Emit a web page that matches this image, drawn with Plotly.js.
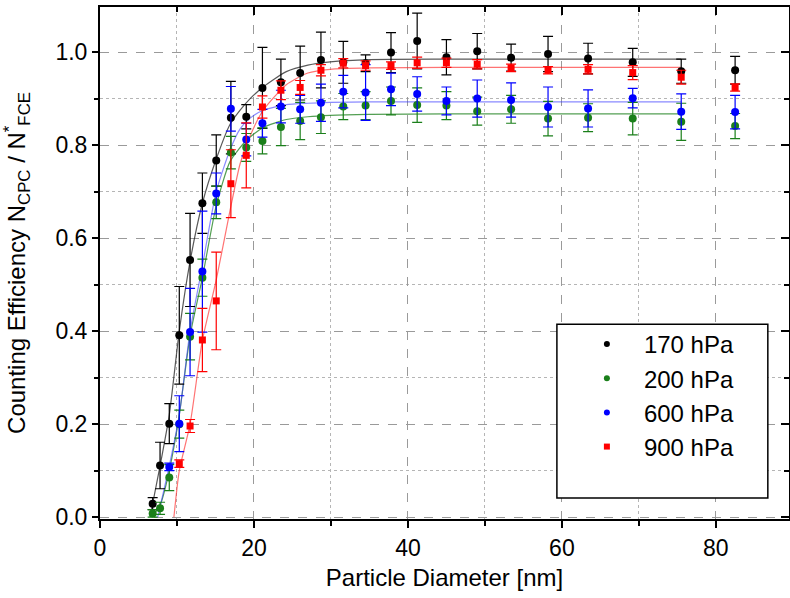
<!DOCTYPE html>
<html><head><meta charset="utf-8">
<script src="https://cdn.plot.ly/plotly-3.0.1.min.js"></script>
<style>body{margin:0;background:#fff}#chart{width:790px;height:598px}</style>
</head><body><div id="chart"></div><script>
// Particle diameters [nm]
const diameter = [6.84,7.8,9.0,10.3,11.7,13.3,15.1,17.0,19.0,21.1,23.5,26.0,28.7,31.6,34.5,37.8,41.2,45.0,49.0,53.4,58.2,63.4,69.2,75.5,82.5];
// 170 hPa (all diameters)
const eff170 = [0.029,0.111,0.201,0.391,0.553,0.675,0.767,0.859,0.861,0.923,0.935,0.955,0.983,0.978,0.976,0.999,1.024,0.989,1.002,0.988,0.996,0.986,0.978,0.959,0.961];
const err170 = [0.013,0.05,0.043,0.105,0.10,0.065,0.055,0.078,0.026,0.087,0.05,0.058,0.06,0.045,0.018,0.043,0.06,0.038,0.038,0.029,0.038,0.033,0.03,0.026,0.03];
// 200 hPa (all diameters)
const eff200 = [0.008,0.019,0.085,0.20,0.388,0.515,0.677,0.784,0.795,0.809,0.839,0.852,0.860,0.883,0.885,0.895,0.886,0.885,0.873,0.877,0.857,0.859,0.857,0.850,0.841];
const err200 = [0.008,0.013,0.028,0.03,0.05,0.04,0.035,0.035,0.03,0.028,0.04,0.04,0.035,0.028,0.03,0.03,0.037,0.03,0.03,0.03,0.037,0.03,0.035,0.04,0.027];
// 600 hPa (from 9.0 nm)
const diameter600 = [9.0,10.3,11.7,13.3,15.1,17.0,19.0,21.1,23.5,26.0,28.7,31.6,34.5,37.8,41.2,45.0,49.0,53.4,58.2,63.4,69.2,75.5,82.5];
const eff600 = [0.108,0.201,0.398,0.528,0.696,0.878,0.812,0.847,0.883,0.877,0.891,0.915,0.913,0.920,0.910,0.895,0.900,0.897,0.882,0.879,0.901,0.872,0.871];
const err600 = [0.008,0.06,0.094,0.13,0.044,0.048,0.035,0.03,0.035,0.03,0.04,0.035,0.06,0.035,0.037,0.03,0.04,0.037,0.043,0.04,0.021,0.038,0.036];
// 900 hPa (from 10.3 nm)
const diameter900 = [10.3,11.7,13.3,15.1,17.0,19.0,21.1,23.5,26.0,28.7,31.6,34.5,37.8,41.2,45.0,49.0,53.4,58.2,63.4,69.2,75.5,82.5];
const eff900 = [0.115,0.196,0.381,0.465,0.717,0.778,0.882,0.918,0.924,0.961,0.976,0.971,0.971,0.977,0.977,0.974,0.966,0.961,0.963,0.956,0.946,0.924];
const err900 = [0.008,0.014,0.068,0.105,0.073,0.07,0.024,0.02,0.015,0.012,0.01,0.01,0.008,0.012,0.01,0.01,0.008,0.008,0.01,0.015,0.015,0.008];
// Fit curves
const fit170X = [6.5,7.8,9.0,10.3,11.7,13.3,15.1,16.9,18.2,19.5,21.2,24.2,27.0,29.9,35,45,60,75.5];
const fit170Y = [0,0.11,0.22,0.40,0.55,0.675,0.77,0.845,0.875,0.90,0.925,0.958,0.972,0.979,0.984,0.985,0.985,0.985];
const fit200X = [6.8,7.9,9.0,10.3,11.7,13.3,15.1,16.9,19.0,21.2,24.2,27.0,29.9,35,45,60,75.5];
const fit200Y = [0,0.03,0.10,0.22,0.39,0.515,0.67,0.765,0.81,0.838,0.855,0.861,0.864,0.866,0.867,0.867,0.867];
const fit600X = [7.5,9.0,10.3,11.7,13.3,15.1,16.9,18.2,19.5,21.2,24.2,27.0,29.9,35,45,60,75.5];
const fit600Y = [0,0.11,0.22,0.40,0.54,0.70,0.79,0.835,0.858,0.875,0.887,0.890,0.892,0.893,0.893,0.893,0.893];
const fit900X = [9.6,10.3,11.7,13.3,15.1,16.9,18.2,19.5,21.2,24.2,27.0,29.9,35,45,60,75.5];
const fit900Y = [0,0.10,0.20,0.38,0.51,0.66,0.76,0.82,0.875,0.93,0.955,0.963,0.966,0.967,0.967,0.967];

const seriesNames = ['170 hPa','200 hPa','600 hPa','900 hPa'];
const colors = ['#000000','#1a7f1a','#0000ff','#ff0000'];
const fitColors = ['rgba(0,0,0,0.65)','rgba(26,127,26,0.75)','rgba(60,60,255,0.6)','rgba(255,40,40,0.65)'];

const sets = [
  {x: diameter, y: eff170, e: err170, fx: fit170X, fy: fit170Y, sym: 'circle', size: 8},
  {x: diameter, y: eff200, e: err200, fx: fit200X, fy: fit200Y, sym: 'circle', size: 8},
  {x: diameter600, y: eff600, e: err600, fx: fit600X, fy: fit600Y, sym: 'circle', size: 8},
  {x: diameter900, y: eff900, e: err900, fx: fit900X, fy: fit900Y, sym: 'square', size: 7}
];

const traces = [];
sets.forEach((s, i) => {
  traces.push({x: s.fx, y: s.fy, mode: 'lines', line: {color: fitColors[i], width: 1.2, shape: 'spline', smoothing: 0.6}, showlegend: false, hoverinfo: 'skip'});
});
sets.forEach((s, i) => {
  traces.push({x: s.x, y: s.y, mode: 'markers', type: 'scatter', showlegend: false,
    marker: {color: colors[i], size: s.size, symbol: s.sym},
    error_y: {type: 'data', array: s.e, visible: true, color: colors[i], thickness: 1.2, width: 5}});
});
sets.forEach((s, i) => {
  traces.push({x: [null], y: [null], mode: 'markers', name: seriesNames[i], legendgroup: 'g' + i,
    marker: {color: colors[i], size: 6, symbol: s.sym}});
});
// overlay axes for inward mirror ticks
traces.push({x: [null], y: [null], xaxis: 'x2', yaxis: 'y', showlegend: false, hoverinfo: 'skip'});
traces.push({x: [null], y: [null], xaxis: 'x', yaxis: 'y2', showlegend: false, hoverinfo: 'skip'});

const xr = [0, 89.5], yr = [-0.004, 1.097];
const font = {family: 'Liberation Sans, Arial, sans-serif', color: '#000'};
const layout = {
  width: 790, height: 598,
  margin: {l: 100, r: 1, t: 7, b: 79},
  paper_bgcolor: '#fff', plot_bgcolor: '#fff',
  font: font,
  showlegend: true,
  legend: {x: 0.682, xanchor: 'left', y: 0.385, yanchor: 'top', bgcolor: 'rgba(0,0,0,0)', borderwidth: 0, itemwidth: 64,
    font: {family: font.family, size: 24, color: '#000'}, traceorder: 'grouped', tracegroupgap: 0},
  xaxis: {range: xr, dtick: 20, tick0: 0, ticks: 'outside', ticklen: 7, tickwidth: 2, tickcolor: '#000',
    showline: true, linewidth: 2, linecolor: '#000', mirror: true, zeroline: false,
    showgrid: true, gridcolor: '#9a9a9a', griddash: 'dash', gridwidth: 1,
    minor: {dtick: 10, ticks: 'outside', ticklen: 5, tickwidth: 2, tickcolor: '#000', showgrid: true, gridcolor: '#b5b5b5', griddash: 'dot', gridwidth: 1},
    tickfont: {family: font.family, size: 23, color: '#000'},
    title: {text: 'Particle Diameter [nm]', font: {family: font.family, size: 24, color: '#000'}, standoff: 10}},
  yaxis: {range: yr, dtick: 0.2, tick0: 0, tickformat: '.1f', ticks: 'outside', ticklen: 6, tickwidth: 2, tickcolor: '#000',
    showline: true, linewidth: 2, linecolor: '#000', mirror: true, zeroline: false,
    showgrid: true, gridcolor: '#9a9a9a', griddash: 'dash', gridwidth: 1,
    minor: {dtick: 0.1, ticks: 'outside', ticklen: 4, tickwidth: 2, tickcolor: '#000', showgrid: true, gridcolor: '#b5b5b5', griddash: 'dot', gridwidth: 1},
    tickfont: {family: font.family, size: 23, color: '#000'},
    title: {text: 'Counting Efficiency N<sub>CPC</sub> / N<sup>*</sup><sub>FCE</sub>', font: {family: font.family, size: 24, color: '#000'}, standoff: 23}},
  xaxis2: {overlaying: 'x', side: 'top', anchor: 'y', range: xr, dtick: 20, tick0: 0, ticks: 'inside', ticklen: 8, tickwidth: 2, tickcolor: '#000',
    showticklabels: false, showgrid: false, zeroline: false, showline: false,
    minor: {dtick: 10, ticks: 'inside', ticklen: 5, tickwidth: 2, tickcolor: '#000', showgrid: false}},
  yaxis2: {overlaying: 'y', side: 'right', anchor: 'x', range: yr, dtick: 0.2, tick0: 0, ticks: 'inside', ticklen: 8, tickwidth: 2, tickcolor: '#000',
    showticklabels: false, showgrid: false, zeroline: false, showline: false,
    minor: {dtick: 0.1, ticks: 'inside', ticklen: 5, tickwidth: 2, tickcolor: '#000', showgrid: false}},
  shapes: [{type: 'rect', xref: 'x', yref: 'y', x0: 59.35, x1: 86.75, y0: 0.041, y1: 0.415,
    line: {color: '#000', width: 1.5}, fillcolor: '#fff', layer: 'above'}]
};
Plotly.newPlot('chart', traces, layout, {displayModeBar: false, staticPlot: true});
</script></body></html>
